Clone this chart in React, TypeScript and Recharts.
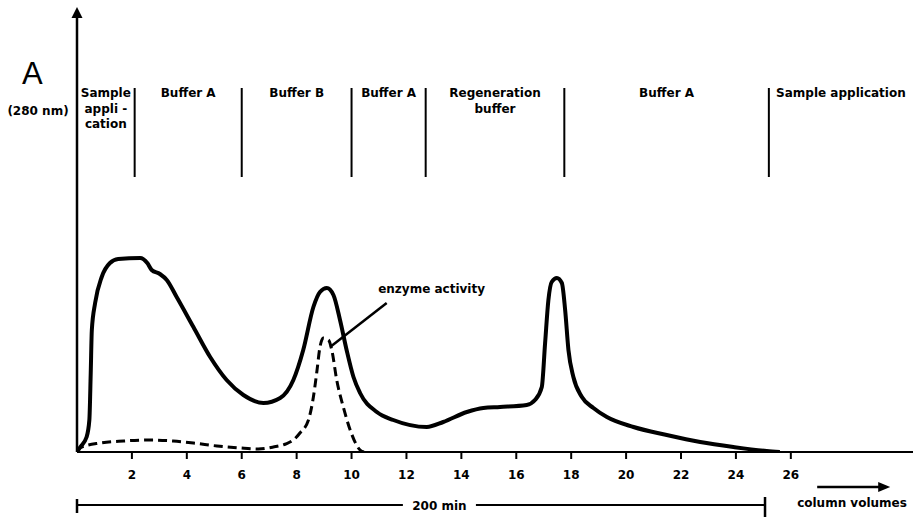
import React from 'react';
import { LineChart, Line, XAxis, YAxis, ReferenceLine, ReferenceArea, ReferenceDot } from 'recharts';

const FONT = '"DejaVu Sans", sans-serif';
const INK = '#000';

// x = column volumes, value = A280 in arbitrary units
const absorbance = [
  { cv: 0, value: 0 },
  { cv: 0.12, value: 5 },
  { cv: 0.35, value: 15 },
  { cv: 0.45, value: 32 },
  { cv: 0.5, value: 79 },
  { cv: 0.54, value: 122 },
  { cv: 0.66, value: 149 },
  { cv: 0.9, value: 175 },
  { cv: 1.2, value: 189 },
  { cv: 1.5, value: 193 },
  { cv: 2.3, value: 194 },
  { cv: 2.56, value: 189 },
  { cv: 2.72, value: 182 },
  { cv: 3.02, value: 178 },
  { cv: 3.27, value: 172 },
  { cv: 3.63, value: 155 },
  { cv: 4.24, value: 125 },
  { cv: 4.85, value: 95 },
  { cv: 5.45, value: 72 },
  { cv: 6.06, value: 57 },
  { cv: 6.79, value: 49 },
  { cv: 7.4, value: 54 },
  { cv: 7.88, value: 72 },
  { cv: 8.24, value: 102 },
  { cv: 8.61, value: 145 },
  { cv: 8.85, value: 160 },
  { cv: 9.1, value: 164 },
  { cv: 9.34, value: 157 },
  { cv: 9.58, value: 132 },
  { cv: 9.82, value: 102 },
  { cv: 10.07, value: 75 },
  { cv: 10.31, value: 59 },
  { cv: 10.92, value: 40 },
  { cv: 11.52, value: 32 },
  { cv: 12.74, value: 25 },
  { cv: 13.34, value: 30 },
  { cv: 14.2, value: 40 },
  { cv: 14.8, value: 44 },
  { cv: 15.41, value: 45 },
  { cv: 16.38, value: 47 },
  { cv: 16.68, value: 52 },
  { cv: 16.93, value: 65 },
  { cv: 17.05, value: 109 },
  { cv: 17.17, value: 152 },
  { cv: 17.29, value: 170 },
  { cv: 17.48, value: 174 },
  { cv: 17.66, value: 169 },
  { cv: 17.78, value: 142 },
  { cv: 17.9, value: 102 },
  { cv: 18.08, value: 75 },
  { cv: 18.39, value: 55 },
  { cv: 18.81, value: 44 },
  { cv: 19.3, value: 35 },
  { cv: 20.27, value: 25 },
  { cv: 21.48, value: 17 },
  { cv: 22.7, value: 10 },
  { cv: 23.91, value: 5 },
  { cv: 25.12, value: 1 },
  { cv: 25.6, value: 0 },
];

const enzymeActivity = [
  { cv: 0, value: 0 },
  { cv: 0.1, value: 4 },
  { cv: 0.84, value: 9 },
  { cv: 1.7, value: 11 },
  { cv: 2.66, value: 12 },
  { cv: 3.5, value: 11 },
  { cv: 4.24, value: 9 },
  { cv: 5.1, value: 6 },
  { cv: 5.94, value: 4 },
  { cv: 6.6, value: 3 },
  { cv: 7.15, value: 5 },
  { cv: 7.6, value: 8 },
  { cv: 7.88, value: 12 },
  { cv: 8.12, value: 19 },
  { cv: 8.43, value: 32 },
  { cv: 8.61, value: 55 },
  { cv: 8.73, value: 79 },
  { cv: 8.85, value: 105 },
  { cv: 8.97, value: 114 },
  { cv: 9.16, value: 112 },
  { cv: 9.28, value: 102 },
  { cv: 9.46, value: 72 },
  { cv: 9.7, value: 45 },
  { cv: 9.95, value: 22 },
  { cv: 10.31, value: 2 },
  { cv: 10.45, value: 0 },
];

const xTicks = [2, 4, 6, 8, 10, 12, 14, 16, 18, 20, 22, 24, 26];
const X_MAX = 30.45;
const Y_MAX = 435;

// buffer phases (column volumes) and their names
const phaseBounds = [0, 2.1, 6.0, 10.0, 12.7, 17.75, 25.2, X_MAX];
const phaseNames = [
  ['Sample', 'appli -', 'cation'],
  ['Buffer A'],
  ['Buffer B'],
  ['Buffer A'],
  ['Regeneration', 'buffer'],
  ['Buffer A'],
  ['Sample application'],
];

// 200 min run marker below the axis
const runStart = 0;
const runEnd = 25.06;
const runLabel = '200 min';
const runLabelAt = 13.2;

// layout constants (value units)
const DIV_LOW = 275;
const DIV_HIGH = 364;
const RUN_Y = -53;
const ARROW_Y = -35;

const PhaseLabel = (props: any) => {
  const { viewBox, lines } = props;
  const cx = viewBox.x + viewBox.width / 2;
  return (
    <text x={cx} y={viewBox.y + 9} textAnchor="middle" fontFamily={FONT} fontWeight="bold" fontSize={12} fill={INK}>
      {lines.map((l: string, i: number) => (
        <tspan key={i} x={cx} dy={i === 0 ? 0 : 15.5}>{l}</tspan>
      ))}
    </text>
  );
};

const axisTitle = (p: any) => (
  <g fill={INK}>
    <text x={p.cx - 55} y={p.cy + 67} fontSize={31} fontFamily='"Liberation Sans", Arial, sans-serif'>A</text>
    <text x={p.cx - 39} y={p.cy + 98} textAnchor="middle" fontSize={12} fontWeight="bold" fontFamily={FONT}>(280 nm)</text>
  </g>
);

const textShape = (txt: string, anchor: string) => (p: any) => (
  <text x={p.cx} y={p.cy} textAnchor={anchor} fontFamily={FONT} fontWeight="bold" fontSize={12} fill={INK}>{txt}</text>
);

const upArrow = (p: any) => (
  <path d={`M${p.cx},${p.cy - 10} L${p.cx + 5.5},${p.cy + 1} L${p.cx - 5.5},${p.cy + 1} Z`} fill={INK} />
);

const rightArrow = (p: any) => (
  <path d={`M${p.cx},${p.cy} L${p.cx - 12},${p.cy - 5} L${p.cx - 12},${p.cy + 5} Z`} fill={INK} />
);

export default function App() {
  const gap = 1.33;
  return (
    <div style={{ position: 'absolute', left: 0, top: 0, background: '#fff' }}>
      <LineChart width={918} height={517} margin={{ top: 17, right: 5, bottom: 35, left: 77 }}>
        <XAxis
          dataKey="cv"
          type="number"
          domain={[0, X_MAX]}
          allowDataOverflow
          ticks={xTicks}
          height={30}
          axisLine={{ stroke: INK, strokeWidth: 2 }}
          tickLine={{ stroke: INK, strokeWidth: 2 }}
          tickSize={7}
          tickMargin={11}
          tick={{ fill: INK, fontSize: 12, fontWeight: 'bold', fontFamily: FONT }}
        />
        <YAxis type="number" domain={[0, Y_MAX]} allowDataOverflow hide />

        {/* y axis line, arrowhead and title */}
        <ReferenceLine segment={[{ x: 0, y: 0 }, { x: 0, y: Y_MAX }]} stroke={INK} strokeWidth={2.5} ifOverflow="visible" />
        <ReferenceDot x={0} y={Y_MAX} r={0} ifOverflow="visible" shape={upArrow} />
        <ReferenceDot x={0} y={Y_MAX} r={0} ifOverflow="visible" shape={axisTitle} />

        {phaseNames.map((lines, i) => (
          <ReferenceArea
            key={'ph' + i}
            x1={phaseBounds[i]}
            x2={phaseBounds[i + 1]}
            y1={DIV_LOW}
            y2={DIV_HIGH}
            fill="none"
            stroke="none"
            ifOverflow="visible"
            label={<PhaseLabel lines={lines} />}
          />
        ))}
        {phaseBounds.slice(1, -1).map((b, i) => (
          <ReferenceLine
            key={'div' + i}
            segment={[{ x: b, y: DIV_LOW }, { x: b, y: DIV_HIGH }]}
            stroke={INK}
            strokeWidth={2}
            ifOverflow="visible"
          />
        ))}

        <Line
          data={enzymeActivity}
          dataKey="value"
          type="monotone"
          stroke={INK}
          strokeWidth={3}
          strokeDasharray="9 5"
          dot={false}
          isAnimationActive={false}
        />
        <Line
          data={absorbance}
          dataKey="value"
          type="monotone"
          stroke={INK}
          strokeWidth={4}
          dot={false}
          isAnimationActive={false}
        />

        {/* enzyme activity pointer */}
        <ReferenceLine segment={[{ x: 9.22, y: 105 }, { x: 11.28, y: 149 }]} stroke={INK} strokeWidth={2.5} ifOverflow="visible" />
        <ReferenceDot x={10.97} y={159} r={0} ifOverflow="visible" shape={textShape('enzyme activity', 'start')} />

        {/* 200 min bar */}
        <ReferenceLine segment={[{ x: runStart, y: RUN_Y }, { x: runLabelAt - gap, y: RUN_Y }]} stroke={INK} strokeWidth={2} ifOverflow="visible" />
        <ReferenceLine segment={[{ x: runLabelAt + gap, y: RUN_Y }, { x: runEnd, y: RUN_Y }]} stroke={INK} strokeWidth={2} ifOverflow="visible" />
        <ReferenceLine segment={[{ x: runStart, y: RUN_Y + 6 }, { x: runStart, y: RUN_Y - 8 }]} stroke={INK} strokeWidth={2.5} ifOverflow="visible" />
        <ReferenceLine segment={[{ x: runEnd, y: RUN_Y + 8 }, { x: runEnd, y: RUN_Y - 12 }]} stroke={INK} strokeWidth={2.5} ifOverflow="visible" />
        <ReferenceDot x={runLabelAt} y={RUN_Y - 5} r={0} ifOverflow="visible" shape={textShape(runLabel, 'middle')} />

        {/* column volumes arrow */}
        <ReferenceLine segment={[{ x: 26.96, y: ARROW_Y }, { x: 29.3, y: ARROW_Y }]} stroke={INK} strokeWidth={2.5} ifOverflow="visible" />
        <ReferenceDot x={29.62} y={ARROW_Y} r={0} ifOverflow="visible" shape={rightArrow} />
        <ReferenceDot x={26.23} y={-55} r={0} ifOverflow="visible" shape={textShape('column volumes', 'start')} />
      </LineChart>
    </div>
  );
}
